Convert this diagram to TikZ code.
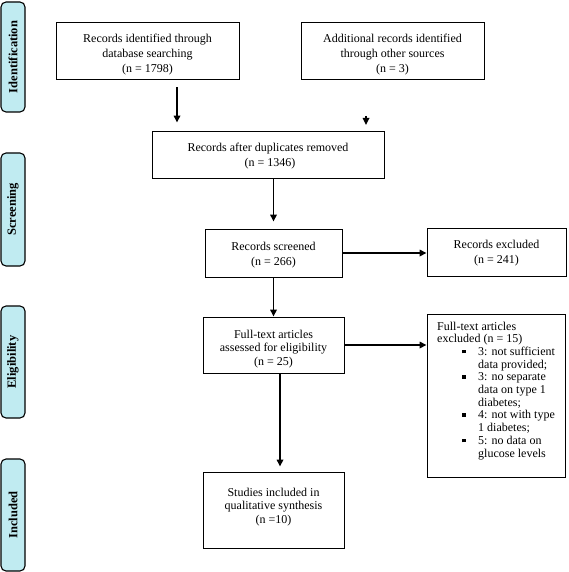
\documentclass[tikz,border=0pt]{standalone}
\usepackage{fontspec}
\setmainfont{Liberation Serif}
\usetikzlibrary{arrows.meta}
\definecolor{phasefill}{RGB}{192,235,241}
\newcommand\blt{\makebox[41pt][l]{\hspace*{25pt}\raisebox{2pt}{\rule{3.5pt}{3.5pt}}}}
\newcommand\indt{\hspace*{41pt}}
\begin{document}
\begin{tikzpicture}[x=1pt,y=-1pt,
  box/.style={draw, line width=0.9pt, inner sep=0pt},
  txt/.style={inner sep=0pt, align=center, font=\fontsize{12}{15}\selectfont},
  phase/.style={draw, line width=1.1pt, fill=phasefill, rounded corners=5pt, inner sep=0pt,
    minimum height=24pt, rotate=90, font=\fontsize{12.5}{14}\selectfont\bfseries},
  arr/.style={line width=1.6pt, -{Triangle[length=7pt,width=6.5pt]}}
]
\useasboundingbox (0,0) rectangle (568,572);

% phase labels
\node[phase, minimum width=110pt] (p1) at (13,57) {Identification};
\node[phase, minimum width=113pt] (p2) at (13,209.5) {Screening};
\node[phase, minimum width=112pt] (p3) at (13,362) {Eligibility};
\node[phase, minimum width=112pt] (p4) at (13,515) {Included};

% boxes
\node[box, minimum width=183pt, minimum height=57pt] (b1) at (147.5,50.5) {};
\node[txt] (t1) at (147.5,54.5) {Records identified through\\database searching\\(n = 1798)};
\node[box, minimum width=183pt, minimum height=57pt] (b2) at (392.5,50.5) {};
\node[txt] (t2) at (392.5,54.5) {Additional records identified\\through other sources\\(n = 3)};
\node[box, minimum width=232pt, minimum height=47pt] (b3) at (268,154.5) {};
\node[txt] (t3) at (268,156) {Records after duplicates removed\\\hspace*{4pt}(n = 1346)};
\node[box, minimum width=137pt, minimum height=48pt] (b4) at (273.5,253) {};
\node[txt] (t4) at (273.5,255) {Records screened\\(n = 266)};
\node[box, minimum width=139pt, minimum height=48pt] (b5) at (496.5,252) {};
\node[txt] (t5) at (496.5,253) {Records excluded\\(n = 241)};
\node[box, minimum width=141pt, minimum height=56pt] (b6) at (273.5,345) {};
\node[txt, font=\fontsize{12}{13.8}\selectfont] (t6) at (273.5,349)
  {Full-text articles\\assessed for eligibility\\(n = 25)};
\node[box, minimum width=138pt, minimum height=163pt] (b7) at (496,395.5) {};
\node[anchor=north west, inner sep=0pt, align=left, font=\fontsize{12}{12.7}\selectfont] (t7) at (437,321.5)
  {Full-text articles\\
   excluded (n = 15)\\
   \blt 3: not sufficient\\
   \indt data provided;\\
   \blt 3: no separate\\
   \indt data on type 1\\
   \indt diabetes;\\
   \blt 4: not with type\\
   \indt 1 diabetes;\\
   \blt 5: no data on\\
   \indt glucose levels};
\node[box, minimum width=141pt, minimum height=76pt] (b8) at (273.5,510) {};
\node[txt, font=\fontsize{12}{13.8}\selectfont] (t8) at (273.5,507)
  {Studies included in\\qualitative synthesis\\(n =10)};

% connectors
\coordinate (a1) at (177,0);
\coordinate (a2) at (280,0);
\coordinate (m1) at (366,116);
\coordinate (m2) at (366,125);
\draw[arr, shorten <=8pt, shorten >=8pt] (b1.south -| a1) -- (b3.north -| a1);
\draw[arr] (m1) -- (m2);
\draw[arr, shorten >=7pt] (b3.south -| b4.north) -- (b4.north);
\draw[arr] (b4.east) -- (b4.east -| b5.west);
\draw[arr] (b4.south) -- (b6.north);
\draw[arr] (b6.east) -- (b6.east -| b7.west);
\draw[arr, shorten >=5pt] (b6.south -| a2) -- (b8.north -| a2);
\end{tikzpicture}
\end{document}
